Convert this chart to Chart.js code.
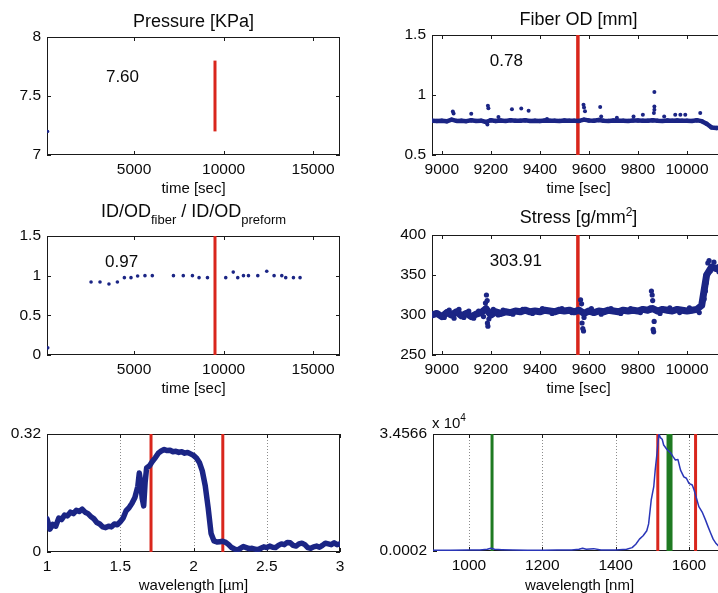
<!DOCTYPE html>
<html>
<head>
<meta charset="utf-8">
<script src="https://cdn.jsdelivr.net/npm/chart.js@4.4.1/dist/chart.umd.min.js"></script>
<style>
html, body { margin: 0; padding: 0; background: #fff; width: 718px; height: 593px; overflow: hidden; }
.panel { position: absolute; }
.panel canvas { display: block; }
</style>
</head>
<body>
<div class="panel" style="left:0px;top:0px"><canvas id="pressure" width="360" height="200"></canvas></div>
<div class="panel" style="left:360px;top:0px"><canvas id="fiberOd" width="380" height="200"></canvas></div>
<div class="panel" style="left:0px;top:200px"><canvas id="ratio" width="360" height="200"></canvas></div>
<div class="panel" style="left:360px;top:200px"><canvas id="stress" width="380" height="200"></canvas></div>
<div class="panel" style="left:0px;top:400px"><canvas id="specUm" width="360" height="193"></canvas></div>
<div class="panel" style="left:360px;top:400px"><canvas id="specNm" width="380" height="193"></canvas></div>
<script>
// pressure / ratio, whole run
var pressureTime = [180];
var pressureValue = [7.2];
var pressureMarkTime = 9520;
var pressureMarkRange = [7.2, 7.8];
var pressureTicks = [7, 7.5, 8];

var ratioTime = [180, 2600, 3100, 3600, 4070, 4460, 4830, 5200, 5610, 6020, 7200, 7750, 8260, 8630, 9100,
    10120, 10540, 10790, 11110, 11390, 11910, 12410, 12820, 13250, 13470, 13900, 14270];
var ratioValue = [0.09, 0.92, 0.92, 0.895, 0.92, 0.975, 0.975, 0.995, 1.0, 1.0, 1.0, 1.0, 1.0, 0.975, 0.975,
    0.975, 1.045, 0.975, 1.0, 1.0, 1.0, 1.055, 1.0, 1.0, 0.975, 0.975, 0.975];
var ratioMarkTime = 9520;
var ratioTicks = [0, 0.5, 1, 1.5];
var longTimeTicks = [5000, 10000, 15000];

// fiber OD / stress, zoomed window
var sampleTime = [8960, 8980, 9000, 9020, 9040, 9060, 9080, 9100, 9120, 9140,
    9160, 9180, 9200, 9220, 9240, 9260, 9280, 9300, 9320, 9340,
    9360, 9380, 9400, 9420, 9440, 9460, 9480, 9500, 9520, 9540,
    9560, 9580, 9600, 9620, 9640, 9660, 9680, 9700, 9720, 9740,
    9760, 9780, 9800, 9820, 9840, 9860, 9880, 9900, 9920, 9940,
    9960, 9980, 10000, 10020, 10040, 10060, 10080, 10100, 10120, 10140,
    10160];
var odValue = [0.785, 0.783, 0.786, 0.781, 0.795, 0.784, 0.786, 0.782, 0.790, 0.784,
    0.786, 0.775, 0.790, 0.783, 0.787, 0.784, 0.790, 0.785, 0.786, 0.789,
    0.784, 0.786, 0.783, 0.787, 0.785, 0.786, 0.784, 0.787, 0.785, 0.786,
    0.784, 0.795, 0.787, 0.785, 0.792, 0.786, 0.784, 0.787, 0.785, 0.786,
    0.784, 0.787, 0.788, 0.786, 0.785, 0.790, 0.786, 0.784, 0.787, 0.786,
    0.788, 0.785, 0.786, 0.784, 0.790, 0.782, 0.760, 0.730, 0.725, 0.728,
    0.730];
var odSpikeTime = [9045, 9048, 9120, 9188, 9190, 9186, 9231, 9286, 9324, 9354, 9429, 9578, 9580, 9584,
    9646, 9650, 9714, 9782, 9820, 9867, 9867, 9867, 9865, 9907, 9952, 9973, 9993, 10054];
var odSpikeValue = [0.863, 0.845, 0.843, 0.91, 0.89, 0.755, 0.816, 0.882, 0.888, 0.868, 0.80, 0.918, 0.895, 0.865,
    0.90, 0.82, 0.81, 0.82, 0.835, 1.024, 0.905, 0.877, 0.85, 0.82, 0.835, 0.835, 0.835, 0.85];
var odTicks = [0.5, 1, 1.5];

var stressValue = [300, 302, 298, 303, 300, 304, 299, 302, 298, 301,
    303, 308, 300, 304, 302, 304, 303, 305, 304, 306,
    304, 305, 304, 306, 305, 304, 306, 305, 306, 304,
    306, 302, 305, 303, 305, 304, 306, 305, 304, 306,
    305, 306, 305, 307, 306, 308, 305, 307, 306, 305,
    307, 306, 305, 306, 307, 312, 350, 360, 358, 361,
    359];
var stressSpikeTime = [9010, 9030, 9050, 9070, 9090, 9110, 9130, 9150, 9170, 9178, 9182, 9185, 9186, 9188, 9192,
    9210, 9230, 9250, 9290, 9330, 9370, 9410, 9450, 9490, 9530, 9566, 9570, 9572, 9575, 9578, 9580,
    9610, 9650, 9690, 9730, 9770, 9810, 9850, 9855, 9858, 9860, 9862, 9864, 9866, 9890, 9930, 9970,
    10010, 10050, 10070, 10075, 10078, 10085, 10090, 10095, 10110, 10130, 10150];
var stressSpikeValue = [297, 306, 296, 307, 297, 305, 296, 305, 298, 315, 325, 318, 290, 286, 295,
    307, 300, 306, 301, 307, 302, 308, 302, 308, 303, 319, 314, 290, 283, 280, 297,
    308, 301, 308, 302, 308, 303, 309, 330, 325, 318, 282, 279, 292, 302, 309, 303,
    309, 303, 320, 330, 340, 365, 368, 355, 366, 354, 365];
var stressTicks = [250, 300, 350, 400];
var shortTimeTicks = [9000, 9200, 9400, 9600, 9800, 10000];
var zoomMarkTime = 9555;

// transmission spectrum [um]
var umWavelength = [1.00, 1.02, 1.04, 1.06, 1.08, 1.10, 1.12, 1.14, 1.16, 1.18,
    1.20, 1.22, 1.24, 1.26, 1.28, 1.30, 1.32, 1.34, 1.36, 1.38,
    1.40, 1.42, 1.44, 1.46, 1.48, 1.50, 1.52, 1.54, 1.56, 1.58,
    1.60, 1.62, 1.63, 1.64, 1.65, 1.66, 1.67, 1.68, 1.70, 1.72,
    1.74, 1.76, 1.78, 1.80, 1.82, 1.84, 1.86, 1.88, 1.90, 1.92,
    1.94, 1.96, 1.98, 2.00, 2.02, 2.04, 2.06, 2.08, 2.10, 2.12,
    2.14, 2.16, 2.18, 2.20, 2.22, 2.24, 2.26, 2.28, 2.30, 2.32,
    2.34, 2.36, 2.38, 2.40, 2.42, 2.44, 2.46, 2.48, 2.50, 2.52,
    2.54, 2.56, 2.58, 2.60, 2.62, 2.64, 2.66, 2.68, 2.70, 2.72,
    2.74, 2.76, 2.78, 2.80, 2.82, 2.84, 2.86, 2.88, 2.90, 2.92,
    2.94, 2.96, 2.98, 3.00];
var umSignal = [0.090, 0.062, 0.075, 0.070, 0.092, 0.088, 0.100, 0.098, 0.108, 0.104,
    0.113, 0.110, 0.116, 0.108, 0.104, 0.096, 0.090, 0.080, 0.076, 0.068,
    0.066, 0.070, 0.068, 0.076, 0.074, 0.082, 0.092, 0.112, 0.120, 0.132,
    0.148, 0.178, 0.214, 0.188, 0.145, 0.125, 0.190, 0.228, 0.234, 0.246,
    0.256, 0.268, 0.274, 0.278, 0.275, 0.276, 0.272, 0.273, 0.270, 0.272,
    0.268, 0.270, 0.266, 0.262, 0.255, 0.243, 0.220, 0.180, 0.120, 0.050,
    0.030, 0.027, 0.028, 0.029, 0.026, 0.020, 0.012, 0.008, 0.005, 0.010,
    0.015, 0.012, 0.009, 0.010, 0.008, 0.006, 0.010, 0.014, 0.012, 0.016,
    0.013, 0.012, 0.018, 0.022, 0.020, 0.026, 0.025, 0.018, 0.016, 0.022,
    0.024, 0.020, 0.012, 0.010, 0.014, 0.016, 0.013, 0.018, 0.024, 0.022,
    0.020, 0.025, 0.020, 0.022];
var umMarks = [1.71, 2.20];
var umTicksX = [1, 1.5, 2, 2.5, 3];
var umTicksY = [0, 0.32];

// source spectrum [nm], units of 1e4
var nmWavelength = [900, 950, 1000, 1030, 1050, 1060, 1070, 1090, 1120, 1160,
    1200, 1240, 1280, 1300, 1310, 1320, 1340, 1360, 1400, 1430,
    1445, 1455, 1465, 1475, 1485, 1490, 1497, 1504, 1508, 1513,
    1518, 1522, 1527, 1531, 1540, 1550, 1557, 1563, 1570, 1577,
    1586, 1593, 1600, 1609, 1614, 1618, 1622, 1627, 1636, 1645,
    1652, 1659, 1666, 1674, 1685, 1700];
var nmSignal = [0.02, 0.02, 0.03, 0.03, 0.05, 0.08, 0.05, 0.04, 0.03, 0.02,
    0.02, 0.03, 0.03, 0.05, 0.08, 0.05, 0.07, 0.03, 0.03, 0.05,
    0.1, 0.2, 0.35, 0.45, 0.6, 0.8, 1.5, 1.9, 2.4, 2.9,
    3.4566, 3.35, 3.3, 3.13, 3.0, 2.9, 2.78, 2.69, 2.7, 2.39,
    2.19, 2.15, 2.0, 1.95, 1.8, 1.65, 1.5, 1.31, 1.15, 0.92,
    0.72, 0.53, 0.35, 0.22, 0.1, 0.05];
var nmRedMarks = [1515, 1618];
var nmGreenMarks = [1063, 1547];
var nmTicksX = [1000, 1200, 1400, 1600];
var nmTicksY = [0.0002, 3.4566];

var FONT = '"Liberation Sans", Arial, Helvetica, sans-serif';
var NAVY = '#1b2585';
var RED = '#d9261c';
var GREEN = '#1f7a22';
var INK = '#0a0a0a';

Chart.defaults.font.family = FONT;
Chart.defaults.color = INK;

function pairs(xs, ys) {
    var out = [];
    for (var i = 0; i < xs.length; i++) {
        out.push({x: xs[i], y: ys[i]});
    }
    return out;
}

function dots(xs, ys, radius) {
    return {
        data: pairs(xs, ys), showLine: false, pointRadius: radius, pointBorderWidth: 0,
        pointBackgroundColor: NAVY, borderColor: NAVY
    };
}

function trace(xs, ys, width, radius, color) {
    return {
        data: pairs(xs, ys), showLine: true, borderWidth: width, borderColor: color || NAVY,
        borderJoinStyle: 'round', borderCapStyle: 'round',
        pointRadius: radius, pointBorderWidth: 0, pointBackgroundColor: color || NAVY, tension: 0
    };
}

function markLine(x, y0, y1, color, width) {
    return {
        data: [{x: x, y: y0}, {x: x, y: y1}], showLine: true, borderWidth: width,
        borderColor: color, pointRadius: 0, borderCapStyle: 'butt'
    };
}

// texts and box drawn around each plot area, keyed by canvas id
var decorations = {};

function drawRich(ctx, parts, x, y, centered) {
    var widths = parts.map(function(p) {
        ctx.font = p.size + 'px ' + FONT;
        return ctx.measureText(p.t).width;
    });
    var total = widths.reduce(function(a, b) { return a + b; }, 0);
    var cx = centered ? x - total / 2 : x;
    ctx.fillStyle = INK;
    ctx.textAlign = 'left';
    ctx.textBaseline = 'alphabetic';
    parts.forEach(function(p, i) {
        ctx.font = p.size + 'px ' + FONT;
        ctx.fillText(p.t, cx, y + (p.dy || 0));
        cx += widths[i];
    });
}

var matlabAxes = {
    id: 'matlabAxes',
    beforeDatasetsDraw: function(chart) {
        var deco = decorations[chart.canvas.id];
        var a = chart.chartArea, ctx = chart.ctx;
        var xs = chart.scales.x, ys = chart.scales.y;
        ctx.save();
        if (deco.grid) {
            ctx.strokeStyle = '#8c8c8c';
            ctx.lineWidth = 1;
            ctx.setLineDash([1, 2]);
            xs.ticks.forEach(function(t) {
                var px = Math.round(xs.getPixelForValue(t.value)) + 0.5;
                if (px <= a.left + 2 || px >= a.right - 2) return;
                ctx.beginPath();
                ctx.moveTo(px, a.top);
                ctx.lineTo(px, a.bottom);
                ctx.stroke();
            });
            ctx.setLineDash([]);
        }
        ctx.strokeStyle = '#1a1a1a';
        ctx.lineWidth = 1;
        ctx.strokeRect(a.left + 0.5, a.top + 0.5, a.right - a.left - 1, a.bottom - a.top - 1);
        ctx.beginPath();
        xs.ticks.forEach(function(t) {
            var px = Math.round(xs.getPixelForValue(t.value)) + 0.5;
            ctx.moveTo(px, a.bottom); ctx.lineTo(px, a.bottom - 4);
            ctx.moveTo(px, a.top); ctx.lineTo(px, a.top + 4);
        });
        ys.ticks.forEach(function(t) {
            var py = Math.round(ys.getPixelForValue(t.value)) + 0.5;
            ctx.moveTo(a.left, py); ctx.lineTo(a.left + 4, py);
            ctx.moveTo(a.right, py); ctx.lineTo(a.right - 4, py);
        });
        ctx.stroke();
        ctx.restore();
    },
    afterDatasetsDraw: function(chart) {
        var deco = decorations[chart.canvas.id];
        var a = chart.chartArea, ctx = chart.ctx;
        ctx.save();
        if (deco.title) {
            drawRich(ctx, deco.title, (a.left + a.right) / 2, deco.titleY, true);
        }
        if (deco.label) {
            var lx = chart.scales.x.getPixelForValue(deco.label.x);
            var ly = chart.scales.y.getPixelForValue(deco.label.y);
            drawRich(ctx, [{t: deco.label.text, size: 17}], lx, ly, false);
        }
        if (deco.unit) {
            drawRich(ctx, deco.unit, a.left - 1, a.top - 6, false);
        }
        ctx.restore();
    }
};

function axis(min, max, ticks, size, horizontal, title, titlePad, titleLh) {
    return {
        type: 'linear', min: min, max: max,
        grid: {display: false, drawTicks: false},
        border: {display: false},
        ticks: {
            padding: horizontal ? 5 : 6, color: INK, font: {size: 15.5},
            maxRotation: 0, autoSkip: false,
            callback: function(v) { return String(v); }
        },
        afterBuildTicks: function(s) {
            s.ticks = ticks.map(function(v) { return {value: v}; });
        },
        afterFit: function(s) {
            if (horizontal) s.height = size; else s.width = size;
        },
        title: title ? {display: true, text: title, color: INK, font: {size: 15, lineHeight: titleLh || 1.2},
                        padding: {top: 0, bottom: titlePad}}
                     : {display: false}
    };
}

function makePanel(id, p) {
    decorations[id] = p.deco;
    return new Chart(document.getElementById(id), {
        type: 'scatter',
        data: {datasets: p.datasets},
        options: {
            responsive: false,
            animation: false,
            events: [],
            layout: {padding: {top: p.top, right: p.right, left: 0, bottom: 0}},
            plugins: {legend: {display: false}, tooltip: {enabled: false}},
            scales: {
                x: axis(p.xMin, p.xMax, p.xTicks, p.xHeight, true, p.xTitle, p.xTitlePad, p.xTitleLh),
                y: axis(p.yMin, p.yMax, p.yTicks, p.yWidth, false)
            }
        },
        plugins: [matlabAxes]
    });
}

var tfTitle = function(t) { return [{t: t, size: 18}]; };

makePanel('pressure', {
    top: 37, right: 20, yWidth: 47, xHeight: 45,
    xMin: 140, xMax: 16500, xTicks: longTimeTicks, xTitle: 'time [sec]', xTitlePad: 2,
    yMin: 7, yMax: 8, yTicks: pressureTicks,
    datasets: [
        dots(pressureTime, pressureValue, 1.6),
        markLine(pressureMarkTime, pressureMarkRange[0], pressureMarkRange[1], RED, 3)
    ],
    deco: {title: tfTitle('Pressure [KPa]'), titleY: 27, label: {x: 3430, y: 7.62, text: '7.60'}}
});

makePanel('fiberOd', {
    top: 35, right: 15, yWidth: 72, xHeight: 45,
    xMin: 8960, xMax: 10155, xTicks: shortTimeTicks, xTitle: 'time [sec]', xTitlePad: 2,
    yMin: 0.5, yMax: 1.5, yTicks: odTicks,
    datasets: [
        trace(sampleTime, odValue, 4.5, 2.2),
        dots(odSpikeTime, odSpikeValue, 2),
        markLine(zoomMarkTime, 0.5, 1.5, RED, 3.5)
    ],
    deco: {title: tfTitle('Fiber OD [mm]'), titleY: 25, label: {x: 9196, y: 1.244, text: '0.78'}}
});

makePanel('ratio', {
    top: 36, right: 20, yWidth: 47, xHeight: 45,
    xMin: 140, xMax: 16500, xTicks: longTimeTicks, xTitle: 'time [sec]', xTitlePad: 2,
    yMin: 0, yMax: 1.5, yTicks: ratioTicks,
    datasets: [
        dots(ratioTime, ratioValue, 1.8),
        markLine(ratioMarkTime, 0, 1.5, RED, 3)
    ],
    deco: {
        title: [{t: 'ID/OD', size: 18}, {t: 'fiber', size: 13, dy: 7}, {t: ' / ID/OD', size: 18}, {t: 'preform', size: 13, dy: 7}],
        titleY: 17, label: {x: 3380, y: 1.113, text: '0.97'}
    }
});

makePanel('stress', {
    top: 35, right: 15, yWidth: 72, xHeight: 45,
    xMin: 8960, xMax: 10155, xTicks: shortTimeTicks, xTitle: 'time [sec]', xTitlePad: 2,
    yMin: 250, yMax: 400, yTicks: stressTicks,
    datasets: [
        trace(sampleTime, stressValue, 7, 3),
        dots(stressSpikeTime, stressSpikeValue, 2.6),
        markLine(zoomMarkTime, 250, 400, RED, 3.5)
    ],
    deco: {
        title: [{t: 'Stress [g/mm', size: 18}, {t: '2', size: 12, dy: -7}, {t: ']', size: 18}],
        titleY: 23, label: {x: 9196, y: 361.6, text: '303.91'}
    }
});

makePanel('specUm', {
    top: 34, right: 20, yWidth: 47, xHeight: 41,
    xMin: 1, xMax: 3, xTicks: umTicksX, xTitle: 'wavelength [\u00b5m]', xTitlePad: 0, xTitleLh: 1,
    yMin: 0, yMax: 0.32, yTicks: umTicksY,
    datasets: [
        trace(umWavelength, umSignal, 5.5, 0),
        markLine(umMarks[0], 0, 0.32, RED, 3),
        markLine(umMarks[1], 0, 0.32, RED, 3)
    ],
    deco: {grid: true}
});

makePanel('specNm', {
    top: 34, right: 14, yWidth: 73, xHeight: 42,
    xMin: 902, xMax: 1701, xTicks: nmTicksX, xTitle: 'wavelength [nm]', xTitlePad: 0, xTitleLh: 1,
    yMin: 0.0002, yMax: 3.4566, yTicks: nmTicksY,
    datasets: [
        trace(nmWavelength, nmSignal, 1.5, 0, '#2a36b8'),
        markLine(nmGreenMarks[0], 0.0002, 3.4566, GREEN, 3),
        markLine(nmGreenMarks[1], 0.0002, 3.4566, GREEN, 6),
        markLine(nmRedMarks[0], 0.0002, 3.4566, RED, 3),
        markLine(nmRedMarks[1], 0.0002, 3.4566, RED, 3)
    ],
    deco: {grid: true, unit: [{t: 'x 10', size: 15}, {t: '4', size: 10, dy: -7}]}
});
</script>
</body>
</html>
